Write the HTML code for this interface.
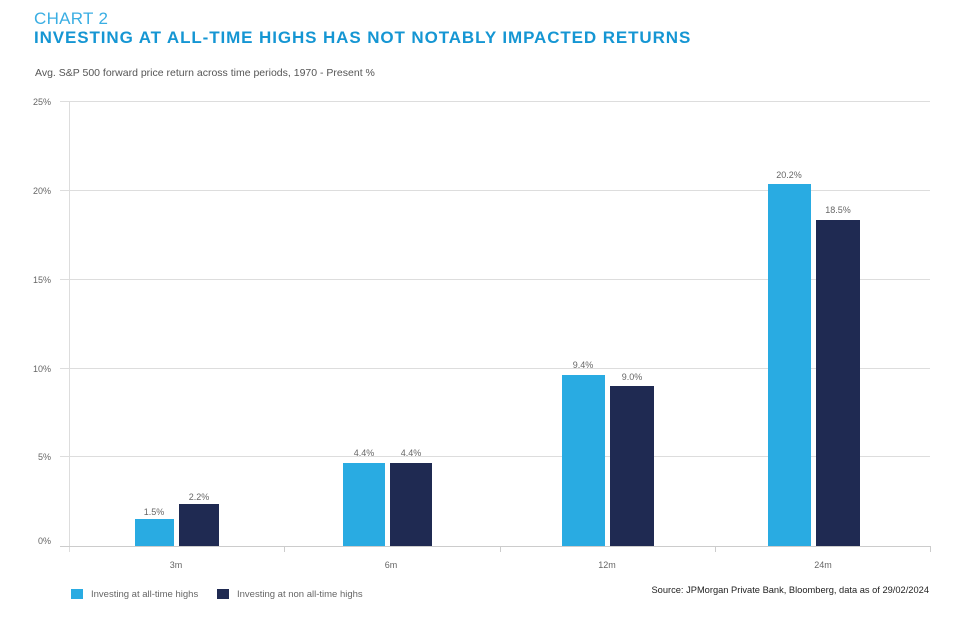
<!DOCTYPE html>
<html><head><style>
body{margin:0;width:954px;height:617px;background:#fff;font-family:"Liberation Sans",sans-serif;position:relative;overflow:hidden}
.a{position:absolute;white-space:nowrap}
</style></head><body>
<div class="a" style="left:34px;top:9px;font-size:17px;color:#3aaee3;letter-spacing:0.3px">CHART 2</div>
<div class="a" style="left:34px;top:28px;font-size:17px;font-weight:bold;color:#1596d3;letter-spacing:0.9px">INVESTING AT ALL-TIME HIGHS HAS NOT NOTABLY IMPACTED RETURNS</div>
<div class="a" style="left:35px;top:67px;font-size:10.5px;color:#555">Avg. S&amp;P 500 forward price return across time periods, 1970 - Present %</div>
<svg class="a" style="left:0;top:0" width="954" height="617" font-family="Liberation Sans, sans-serif">
<g stroke="#ddd" stroke-width="1">
<line x1="60" x2="930" y1="101.5" y2="101.5"/>
<line x1="60" x2="930" y1="190.5" y2="190.5"/>
<line x1="60" x2="930" y1="279.5" y2="279.5"/>
<line x1="60" x2="930" y1="368.5" y2="368.5"/>
<line x1="60" x2="930" y1="456.5" y2="456.5"/>
</g>
<line x1="69.5" x2="69.5" y1="101" y2="552" stroke="#ddd"/>
<line x1="60" x2="930" y1="546.5" y2="546.5" stroke="#ccc"/>
<g stroke="#ccc"><line x1="284.5" x2="284.5" y1="546" y2="552"/><line x1="500.5" x2="500.5" y1="546" y2="552"/><line x1="715.5" x2="715.5" y1="546" y2="552"/><line x1="930.5" x2="930.5" y1="546" y2="552"/></g>
<g font-size="9" fill="#666" text-anchor="end">
<text x="51" y="105">25%</text><text x="51" y="194">20%</text><text x="51" y="283">15%</text><text x="51" y="372">10%</text><text x="51" y="460">5%</text><text x="51" y="544">0%</text>
</g>
<g fill="#29abe2">
<rect x="135" y="519" width="39" height="27"/><rect x="343" y="463" width="42" height="83"/><rect x="562" y="375" width="43" height="171"/><rect x="768" y="184" width="43" height="362"/>
</g>
<g fill="#1f2a52">
<rect x="179" y="504" width="40" height="42"/><rect x="390" y="463" width="42" height="83"/><rect x="610" y="386" width="44" height="160"/><rect x="816" y="220" width="44" height="326"/>
</g>
<g font-size="9" fill="#666" text-anchor="middle">
<text x="154" y="515">1.5%</text><text x="199" y="500">2.2%</text><text x="364" y="456">4.4%</text><text x="411" y="456">4.4%</text>
<text x="583" y="368">9.4%</text><text x="632" y="380">9.0%</text><text x="789" y="178">20.2%</text><text x="838" y="213">18.5%</text>
<text x="176" y="568">3m</text><text x="391" y="568">6m</text><text x="607" y="568">12m</text><text x="823" y="568">24m</text>
</g>
<rect x="71" y="589" width="12" height="10" fill="#29abe2"/>
<rect x="217" y="589" width="12" height="10" fill="#1f2a52"/>
<g font-size="9.5" fill="#666"><text x="91" y="597">Investing at all-time highs</text><text x="237" y="597">Investing at non all-time highs</text></g>
<text x="929" y="593" font-size="9.3" fill="#222" text-anchor="end">Source: JPMorgan Private Bank, Bloomberg, data as of 29/02/2024</text>
</svg>
</body></html>
